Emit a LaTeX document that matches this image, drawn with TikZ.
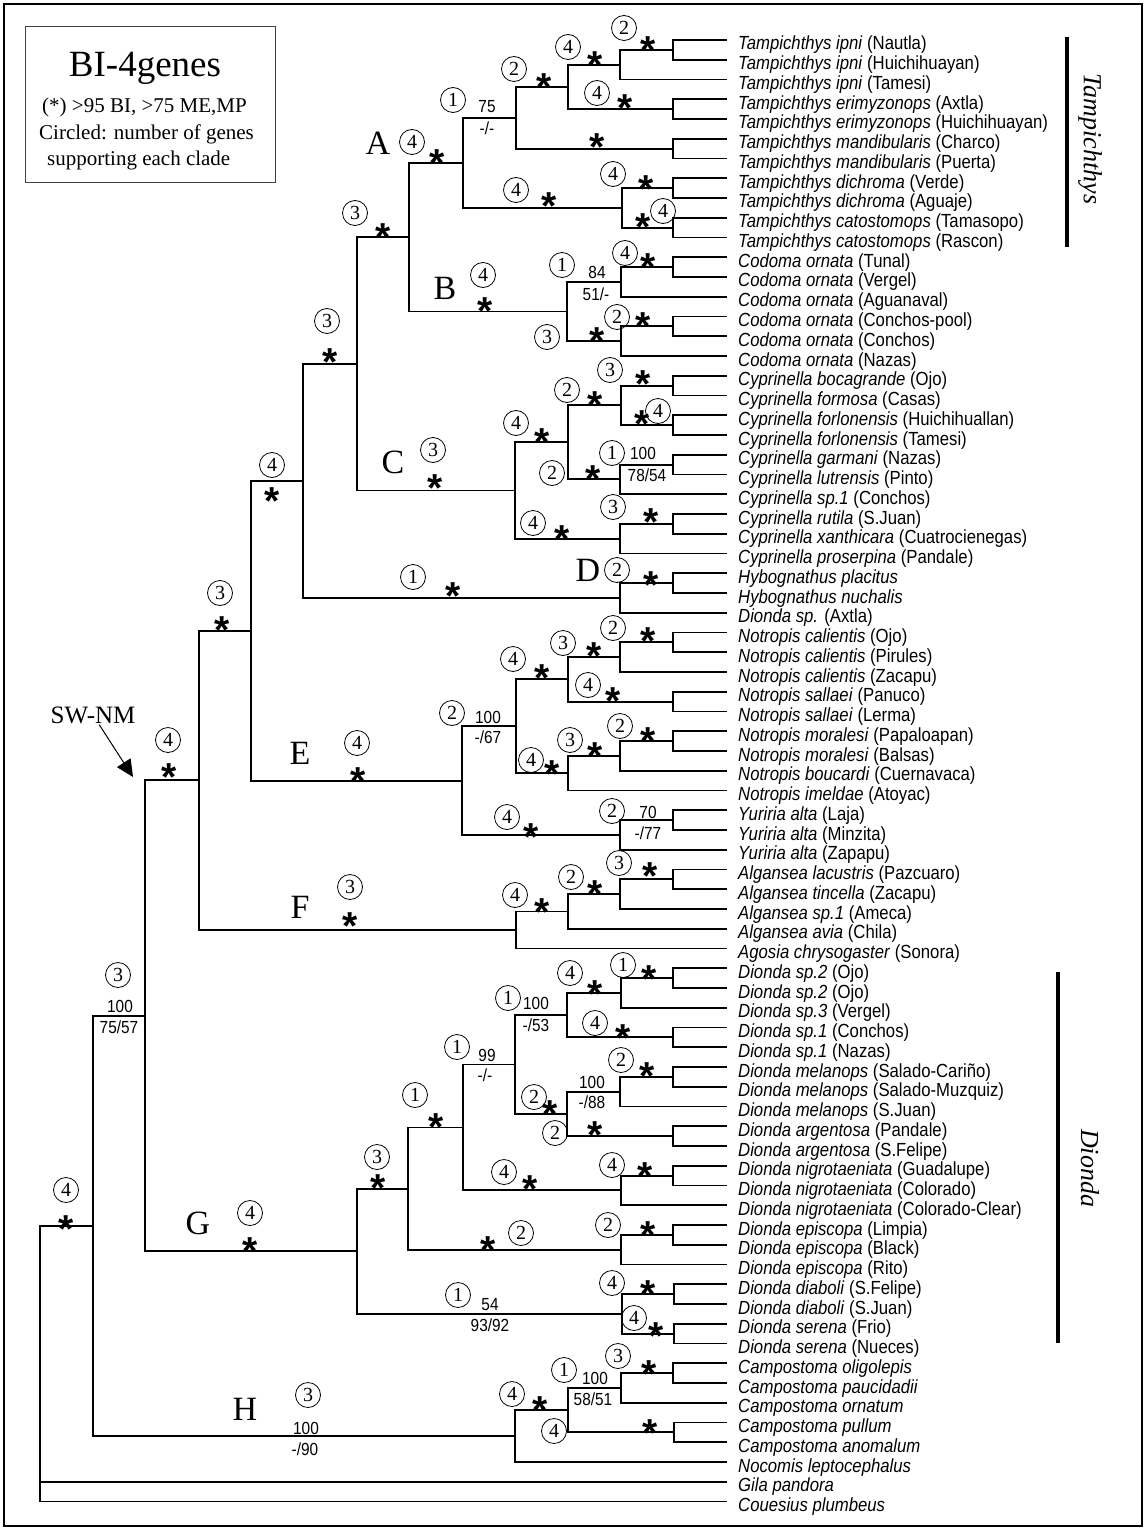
\documentclass[tikz,border=0pt]{standalone}
\usepackage{fontspec}
\setmainfont{Liberation Serif}
\setsansfont{Liberation Sans}
\newfontfamily\taxfont[FakeStretch=0.88]{Liberation Sans}
\usetikzlibrary{arrows.meta}

\begin{document}
\begin{tikzpicture}[
    x=1pt, y=-1pt,
    br/.style={line width=1.9pt},
    taxon/.style={anchor=base west, inner sep=0pt, font=\taxfont\fontsize{19}{20}\selectfont},
    gn/.style={circle, draw, line width=0.8pt, minimum size=25pt, inner sep=0pt, font=\fontsize{20}{20}\selectfont},
    ast/.style={inner sep=0pt, font=\sffamily\bfseries\fontsize{39}{39}\selectfont},
    bs/.style={inner sep=0pt, font=\taxfont\fontsize{17.5}{18}\selectfont},
    clade/.style={inner sep=0pt, font=\fontsize{34}{34}\selectfont},
    genus/.style={inner sep=0pt, rotate=-90, font=\itshape\fontsize{26}{26}\selectfont},
    bar/.style={line width=4.5pt},
    legtxt/.style={anchor=base west, inner sep=0pt, font=\fontsize{21}{21}\selectfont},
    swarr/.style={-{Triangle[length=17pt,width=16pt]}, line width=1pt},
]
  \useasboundingbox (0,0) rectangle (1146,1530);
  \draw[line width=2pt] (4,4) rectangle (1142,1526);

  % legend
  \node[draw=black!75, line width=0.8pt, minimum width=250pt, minimum height=156pt, inner sep=0pt] (legend) at (150,104) {};
  \node[anchor=base, inner sep=0pt, font=\fontsize{37}{37}\selectfont] (title) at (145,77) {BI-4genes};
  \node[legtxt] (leg1) at (42,113) {(*) >95 BI, >75 ME,MP};
  \node[legtxt] (leg2) at (39,140) {Circled: number of genes};
  \node[legtxt] (leg3) at (47,166) {supporting each clade};

  % taxa
  \foreach \i/\sp/\loc in {
    1/Tampichthys ipni/(Nautla), 2/Tampichthys ipni/(Huichihuayan), 3/Tampichthys ipni/(Tamesi),
    4/Tampichthys erimyzonops/(Axtla), 5/Tampichthys erimyzonops/(Huichihuayan),
    6/Tampichthys mandibularis/(Charco), 7/Tampichthys mandibularis/(Puerta),
    8/Tampichthys dichroma/(Verde), 9/Tampichthys dichroma/(Aguaje),
    10/Tampichthys catostomops/(Tamasopo), 11/Tampichthys catostomops/(Rascon),
    12/Codoma ornata/(Tunal), 13/Codoma ornata/(Vergel), 14/Codoma ornata/(Aguanaval),
    15/Codoma ornata/(Conchos-pool), 16/Codoma ornata/(Conchos), 17/Codoma ornata/(Nazas),
    18/Cyprinella bocagrande/(Ojo), 19/Cyprinella formosa/(Casas),
    20/Cyprinella forlonensis/(Huichihuallan), 21/Cyprinella forlonensis/(Tamesi),
    22/Cyprinella garmani/(Nazas), 23/Cyprinella lutrensis/(Pinto), 24/Cyprinella sp.1/(Conchos),
    25/Cyprinella rutila/(S.Juan), 26/Cyprinella xanthicara/(Cuatrocienegas),
    27/Cyprinella proserpina/(Pandale), 28/Hybognathus placitus/{}, 29/Hybognathus nuchalis/{},
    30/Dionda sp./(Axtla), 31/Notropis calientis/(Ojo), 32/Notropis calientis/(Pirules),
    33/Notropis calientis/(Zacapu), 34/Notropis sallaei/(Panuco), 35/Notropis sallaei/(Lerma),
    36/Notropis moralesi/(Papaloapan), 37/Notropis moralesi/(Balsas),
    38/Notropis boucardi/(Cuernavaca), 39/Notropis imeldae/(Atoyac),
    40/Yuriria alta/(Laja), 41/Yuriria alta/(Minzita), 42/Yuriria alta/(Zapapu),
    43/Algansea lacustris/(Pazcuaro), 44/Algansea tincella/(Zacapu), 45/Algansea sp.1/(Ameca),
    46/Algansea avia/(Chila), 47/Agosia chrysogaster/(Sonora),
    48/Dionda sp.2/(Ojo), 49/Dionda sp.2/(Ojo), 50/Dionda sp.3/(Vergel),
    51/Dionda sp.1/(Conchos), 52/Dionda sp.1/(Nazas),
    53/Dionda melanops/(Salado-Cariño), 54/Dionda melanops/(Salado-Muzquiz), 55/Dionda melanops/(S.Juan),
    56/Dionda argentosa/(Pandale), 57/Dionda argentosa/(S.Felipe),
    58/Dionda nigrotaeniata/(Guadalupe), 59/Dionda nigrotaeniata/(Colorado),
    60/Dionda nigrotaeniata/(Colorado-Clear),
    61/Dionda episcopa/(Limpia), 62/Dionda episcopa/(Black), 63/Dionda episcopa/(Rito),
    64/Dionda diaboli/(S.Felipe), 65/Dionda diaboli/(S.Juan),
    66/Dionda serena/(Frio), 67/Dionda serena/(Nueces),
    68/Campostoma oligolepis/{}, 69/Campostoma paucidadii/{}, 70/Campostoma ornatum/{},
    71/Campostoma pullum/{}, 72/Campostoma anomalum/{}, 73/Nocomis leptocephalus/{},
    74/Gila pandora/{}, 75/Couesius plumbeus/{}} {
    \coordinate (t\i) at (727, {40+19.75*(\i-1)});
    \node[taxon] (lab\i) at (738, {50+19.75*(\i-1)}) {\textit{\sp} \loc};
  }

  % internal nodes
  \coordinate (tA1) at (673,49.9);   \coordinate (tA2) at (620,64.7);
  \coordinate (tA3) at (673,109.1);  \coordinate (tA4) at (568,86.9);
  \coordinate (tA5) at (673,148.6);  \coordinate (tA6) at (516,117.8);
  \coordinate (tA7) at (673,188.1);  \coordinate (tA8) at (673,227.6);
  \coordinate (tA9) at (622,207.9);  \coordinate (nA) at (463,162.8);
  \coordinate (tB1) at (673,267.1);  \coordinate (tB2) at (621,281.9);
  \coordinate (tB3) at (673,326.4);  \coordinate (tB4) at (621,341.2);
  \coordinate (nB) at (567,311.5);   \coordinate (nAB) at (409,237.2);
  \coordinate (tC1) at (673,385.6);  \coordinate (tC2) at (673,425.1);
  \coordinate (tC3) at (621,405.4);  \coordinate (tC4) at (673,464.6);
  \coordinate (tC5) at (620,479.4);  \coordinate (tC6) at (568,442.4);
  \coordinate (tC7) at (673,523.9);  \coordinate (tC8) at (620,538.7);
  \coordinate (nC) at (515,490.5);   \coordinate (nABC) at (357,363.9);
  \coordinate (tD1) at (673,583.1);  \coordinate (nD) at (620,597.9);
  \coordinate (nABCD) at (303,480.9);
  \coordinate (tE1) at (673,642.4);  \coordinate (tE2) at (620,657.2);
  \coordinate (tE3) at (673,701.6);  \coordinate (tE4) at (568,679.4);
  \coordinate (tE5) at (673,741.1);  \coordinate (tE6) at (620,755.9);
  \coordinate (tE7) at (568,773.2);  \coordinate (tE8) at (516,726.3);
  \coordinate (tE9) at (673,820.1);  \coordinate (tE10) at (620,834.9);
  \coordinate (nE) at (462,780.6);   \coordinate (nAE) at (251,630.8);
  \coordinate (tF1) at (673,879.4);  \coordinate (tF2) at (620,894.2);
  \coordinate (tF3) at (568,911.5);  \coordinate (nF) at (516,930);
  \coordinate (nAF) at (199,780.4);
  \coordinate (tG1) at (673,978.1);  \coordinate (tG2) at (621,992.9);
  \coordinate (tG3) at (673,1037.4); \coordinate (tG4) at (567,1015.2);
  \coordinate (tG5) at (673,1076.9); \coordinate (tG6) at (620,1091.7);
  \coordinate (tG7) at (673,1136.1); \coordinate (tG8) at (567,1113.9);
  \coordinate (tG9) at (515,1064.5); \coordinate (tG10) at (673,1175.6);
  \coordinate (tG11) at (621,1190.4); \coordinate (tG12) at (463,1127.5);
  \coordinate (tG13) at (673,1234.9); \coordinate (tG14) at (621,1249.7);
  \coordinate (tG15) at (408,1188.6); \coordinate (tG16) at (674,1294.1);
  \coordinate (tG17) at (674,1333.6); \coordinate (tG18) at (622,1313.9);
  \coordinate (nG) at (357,1251.2);  \coordinate (nAG) at (145,1015.8);
  \coordinate (tH1) at (673,1373.1); \coordinate (tH2) at (621,1387.9);
  \coordinate (tH3) at (674,1432.4); \coordinate (tH4) at (568,1410.2);
  \coordinate (nH) at (515,1436.1);  \coordinate (nAH) at (93,1226);
  \coordinate (root) at (40,1400);

  % branches
  \foreach \p/\c in {tA1/t1, tA1/t2, tA2/tA1, tA2/t3, tA3/t4, tA3/t5, tA4/tA2, tA4/tA3,
      tA5/t6, tA5/t7, tA6/tA4, tA6/tA5, tA7/t8, tA7/t9, tA8/t10, tA8/t11, tA9/tA7, tA9/tA8,
      nA/tA6, nA/tA9, tB1/t12, tB1/t13, tB2/tB1, tB2/t14, tB3/t15, tB3/t16, tB4/tB3, tB4/t17,
      nB/tB2, nB/tB4, nAB/nA, nAB/nB, tC1/t18, tC1/t19, tC2/t20, tC2/t21, tC3/tC1, tC3/tC2,
      tC4/t22, tC4/t23, tC5/tC4, tC5/t24, tC6/tC3, tC6/tC5, tC7/t25, tC7/t26, tC8/tC7, tC8/t27,
      nC/tC6, nC/tC8, nABC/nAB, nABC/nC, tD1/t28, tD1/t29, nD/tD1, nD/t30, nABCD/nABC, nABCD/nD,
      tE1/t31, tE1/t32, tE2/tE1, tE2/t33, tE3/t34, tE3/t35, tE4/tE2, tE4/tE3, tE5/t36, tE5/t37,
      tE6/tE5, tE6/t38, tE7/tE6, tE7/t39, tE8/tE4, tE8/tE7, tE9/t40, tE9/t41, tE10/tE9, tE10/t42,
      nE/tE8, nE/tE10, nAE/nABCD, nAE/nE, tF1/t43, tF1/t44, tF2/tF1, tF2/t45, tF3/tF2, tF3/t46,
      nF/tF3, nF/t47, nAF/nAE, nAF/nF, tG1/t48, tG1/t49, tG2/tG1, tG2/t50, tG3/t51, tG3/t52,
      tG4/tG2, tG4/tG3, tG5/t53, tG5/t54, tG6/tG5, tG6/t55, tG7/t56, tG7/t57, tG8/tG6, tG8/tG7,
      tG9/tG4, tG9/tG8, tG10/t58, tG10/t59, tG11/tG10, tG11/t60, tG12/tG9, tG12/tG11,
      tG13/t61, tG13/t62, tG14/tG13, tG14/t63, tG15/tG12, tG15/tG14, tG16/t64, tG16/t65,
      tG17/t66, tG17/t67, tG18/tG16, tG18/tG17, nG/tG15, nG/tG18, nAG/nAF, nAG/nG,
      tH1/t68, tH1/t69, tH2/tH1, tH2/t70, tH3/t71, tH3/t72, tH4/tH2, tH4/tH3, nH/tH4, nH/t73,
      nAH/nAG, nAH/nH, root/nAH, root/t74, root/t75}
    \draw[br] (\p) |- (\c);

  % genes supporting each clade
  \foreach \x/\y/\n [count=\k] in {624/28/2, 568/47/4, 514/69/2, 453/100/1, 597/93/4, 613/174/4,
      663/211/4, 516/190/4, 412/142/4, 355/213/3, 562/265/1, 625/253/4, 547/337/3, 617/317/2,
      483/275/4, 327/321/3, 610/370/3, 658/411/4, 567/390/2, 612/453/1, 552/473/2, 516/423/4,
      613/507/3, 533/523/4, 433/450/3, 617/570/2, 413/577/1, 272/465/4, 613/628/2, 563/643/3,
      588/685/4, 513/659/4, 620/726/2, 570/740/3, 531/760/4, 452/713/2, 612/811/2, 507/817/4,
      357/743/4, 220/593/3, 619/863/3, 571/877/2, 515/895/4, 350/887/3, 168/740/4,
      623/965/1, 570/973/4, 595/1023/4, 508/998/1, 621/1060/2, 555/1133/2, 534/1097/2,
      457/1047/1, 612/1165/4, 504/1172/4, 415/1095/1, 608/1225/2, 521/1233/2, 377/1157/3,
      612/1283/4, 634/1318/4, 458/1295/1, 250/1213/4, 118/975/3, 618/1356/3, 564/1370/1,
      554/1431/4, 512/1394/4, 308/1395/3, 66/1190/4}
    \node[gn] (g\k) at (\x,\y) {\n};

  % strong support
  \foreach \x/\y [count=\k] in {648/41, 595/56, 544/78, 625/99, 597/138, 646/180, 643/218,
      549/197, 437/154, 383/228, 648/258, 597/332, 643/317, 485/302, 330/353, 643/375,
      642/415, 595/396, 593/470, 542/433, 651/513, 562/530, 435/479, 651/576, 453/587,
      272/492, 648/632, 594/647, 613/692, 542/669, 648/732, 595/747, 552/765, 531/828,
      358/772, 222/621, 650/867, 595/885, 542/903, 350/917, 169/768, 649/970, 595/985,
      623/1029, 647/1067, 595/1126, 550/1105, 645/1167, 530/1180, 436/1118, 648/1226,
      488/1241, 378/1179, 648/1285, 656/1327, 250/1242, 649/1365, 650/1424, 540/1401, 66/1220}
    \node[ast] (s\k) at (\x,\y) {\raisebox{-0.565em}[0.15em][0.15em]{*}};

  % bootstrap values
  \foreach \x/\y/\v [count=\k] in {487/107/75, 487/128/{-/-}, 597/272/84, 596/294/{51/-},
      643/453/100, 647/475/{78/54}, 488/717/100, 488/737/{-/67}, 648/812/70, 648/833/{-/77},
      536/1003/100, 536/1025/{-/53}, 592/1082/100, 592/1102/{-/88}, 487/1055/99,
      485/1075/{-/-}, 490/1305/54, 490/1325/{93/92}, 120/1006/100, 119/1027/{75/57},
      595/1378/100, 593/1399/{58/51}, 306/1428/100, 305/1449/{-/90}}
    \node[bs] (b\k) at (\x,\y) {\v};

  \foreach \x/\y/\c in {378/143/A, 445/288/B, 393/462/C, 588/570/D, 300/753/E, 300/907/F,
      198/1223/G, 245/1409/H}
    \node[clade] (cl\c) at (\x,\y) {\c};

  \node[font=\fontsize{25}{25}\selectfont, inner sep=1pt] (swnm) at (93,715) {SW-NM};
  \coordinate (swtip) at (133,777);
  \draw[swarr] (swnm) -- (swtip);

  % genera
  \coordinate (tamtop) at (1067,37);   \coordinate (tambot) at (1067,247);
  \coordinate (diotop) at (1058,972);  \coordinate (diobot) at (1058,1343);
  \draw[bar] (tamtop) -- (tambot);
  \draw[bar] (diotop) -- (diobot);
  \node[genus] (tam) at (1090,139) {Tampichthys};
  \node[genus] (dio) at (1090,1168) {Dionda};
\end{tikzpicture}
\end{document}
